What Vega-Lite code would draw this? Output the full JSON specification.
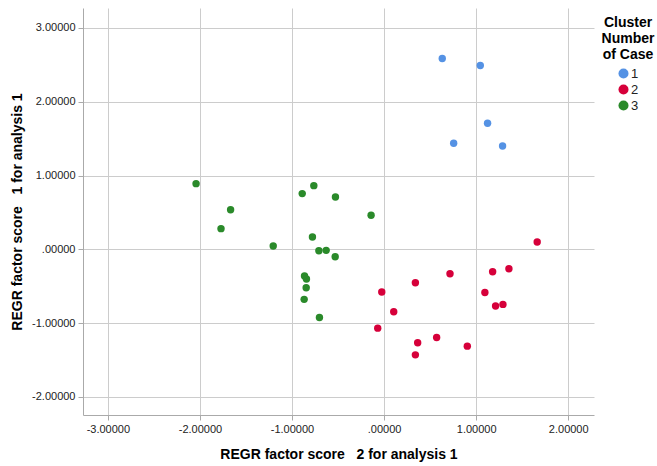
{
  "$schema": "https://vega.github.io/schema/vega-lite/v6.json",
  "width": 511,
  "height": 407,
  "autosize": {"type": "none"},
  "padding": {"left": 83, "top": 8, "right": 63, "bottom": 51},
  "background": "white",
  "config": {
    "view": {"stroke": null},
    "font": "Liberation Sans",
    "axis": {
      "labelFont": "Liberation Sans",
      "labelFontSize": 11,
      "labelColor": "#222222",
      "titleFont": "Liberation Sans",
      "titleFontSize": 14,
      "titleFontWeight": "bold",
      "titleColor": "#000000",
      "gridColor": "#cccccc",
      "gridWidth": 1,
      "domainColor": "#aaaaaa",
      "tickColor": "#aaaaaa",
      "tickSize": 5
    },
    "legend": {
      "titleFont": "Liberation Sans",
      "labelFont": "Liberation Sans"
    }
  },
  "data": {
    "values": [
      {"x": 0.632, "y": 2.586, "cluster": "1"},
      {"x": 1.045, "y": 2.491, "cluster": "1"},
      {"x": 1.124, "y": 1.709, "cluster": "1"},
      {"x": 0.756, "y": 1.438, "cluster": "1"},
      {"x": 1.287, "y": 1.401, "cluster": "1"},
      {"x": 1.663, "y": 0.099, "cluster": "2"},
      {"x": 1.356, "y": -0.263, "cluster": "2"},
      {"x": 1.179, "y": -0.304, "cluster": "2"},
      {"x": 0.716, "y": -0.331, "cluster": "2"},
      {"x": 0.340, "y": -0.453, "cluster": "2"},
      {"x": -0.025, "y": -0.579, "cluster": "2"},
      {"x": 1.095, "y": -0.584, "cluster": "2"},
      {"x": 1.291, "y": -0.746, "cluster": "2"},
      {"x": 1.211, "y": -0.769, "cluster": "2"},
      {"x": 0.105, "y": -0.846, "cluster": "2"},
      {"x": -0.069, "y": -1.068, "cluster": "2"},
      {"x": 0.571, "y": -1.194, "cluster": "2"},
      {"x": 0.365, "y": -1.267, "cluster": "2"},
      {"x": 0.904, "y": -1.312, "cluster": "2"},
      {"x": 0.340, "y": -1.430, "cluster": "2"},
      {"x": -2.042, "y": 0.890, "cluster": "3"},
      {"x": -1.667, "y": 0.537, "cluster": "3"},
      {"x": -1.771, "y": 0.280, "cluster": "3"},
      {"x": -1.204, "y": 0.045, "cluster": "3"},
      {"x": -0.889, "y": 0.755, "cluster": "3"},
      {"x": -0.763, "y": 0.863, "cluster": "3"},
      {"x": -0.528, "y": 0.710, "cluster": "3"},
      {"x": -0.141, "y": 0.461, "cluster": "3"},
      {"x": -0.778, "y": 0.167, "cluster": "3"},
      {"x": -0.708, "y": -0.019, "cluster": "3"},
      {"x": -0.629, "y": -0.014, "cluster": "3"},
      {"x": -0.531, "y": -0.100, "cluster": "3"},
      {"x": -0.864, "y": -0.362, "cluster": "3"},
      {"x": -0.843, "y": -0.403, "cluster": "3"},
      {"x": -0.846, "y": -0.521, "cluster": "3"},
      {"x": -0.868, "y": -0.678, "cluster": "3"},
      {"x": -0.702, "y": -0.923, "cluster": "3"}
    ]
  },
  "mark": {"type": "circle", "size": 55, "opacity": 1},
  "encoding": {
    "x": {
      "field": "x",
      "type": "quantitative",
      "scale": {"domain": [-3.27, 2.28], "nice": false, "zero": false},
      "axis": {
        "title": "REGR factor score \u00a0 2 for analysis 1",
        "values": [-3, -2, -1, 0, 1, 2],
        "labelExpr": "datum.value == 0 ? '.00000' : replace(format(datum.value, '.5f'), '\u2212', '-')",
        "labelPadding": 3,
        "titlePadding": 13
      }
    },
    "y": {
      "field": "y",
      "type": "quantitative",
      "scale": {"domain": [-2.245, 3.27], "nice": false, "zero": false},
      "axis": {
        "title": "REGR factor score \u00a0 1 for analysis 1",
        "values": [-2, -1, 0, 1, 2, 3],
        "labelExpr": "datum.value == 0 ? '.00000' : replace(format(datum.value, '.5f'), '\u2212', '-')",
        "labelPadding": 3,
        "titlePadding": 7
      }
    },
    "color": {
      "field": "cluster",
      "type": "nominal",
      "scale": {"domain": ["1", "2", "3"], "range": ["#5592e4", "#d6003a", "#2a8a2a"]},
      "legend": {
        "title": ["Cluster", "Number", "of Case"],
        "orient": "none",
        "legendX": 519,
        "legendY": 8,
        "titleFontSize": 14,
        "titleFontWeight": "bold",
        "titleColor": "#000000",
        "titleAnchor": "middle",
        "titleAlign": "center",
        "titleLineHeight": 16,
        "titlePadding": 5,
        "labelFontSize": 13,
        "labelColor": "#222222",
        "labelOffset": 1,
        "symbolType": "circle",
        "symbolSize": 100,
        "symbolStrokeWidth": 0,
        "rowPadding": 2
      }
    }
  }
}
